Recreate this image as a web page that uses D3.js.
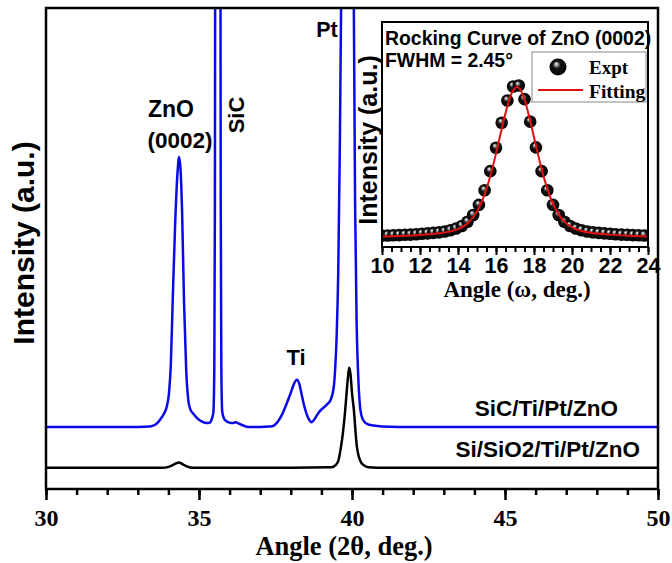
<!DOCTYPE html>
<html><head><meta charset="utf-8">
<script src="https://cdn.jsdelivr.net/npm/d3@7/dist/d3.min.js"></script>
<style>body{margin:0;background:#fff;} svg{display:block;}</style>
</head><body><svg id="c" width="672" height="563"></svg>
<script>
// ---------- DATA ----------
const mainTicks = [30, 35, 40, 45, 50];
const insetTicks = [10, 12, 14, 16, 18, 20, 22, 24];
const seriesNames = ["SiC/Ti/Pt/ZnO", "Si/SiO2/Ti/Pt/ZnO"];
const peakNames = ["ZnO", "(0002)", "SiC", "Ti", "Pt"];
// SiC/Ti/Pt/ZnO  [2theta, intensity]
const sicSeries = [[30,12.9],[31,12.9],[32,12.9],[33,12.9],[33.4,13.0],[33.55,13.3],[33.65,13.8],[33.75,14.6],[33.85,15.6],[33.95,17.2],[34.02,20],[34.08,26],[34.14,39],[34.22,55],[34.3,66],[34.35,69],[34.4,66],[34.45,57],[34.51,39],[34.58,25],[34.65,18.5],[34.72,16.5],[34.81,15.7],[34.9,15.0],[35.0,14.4],[35.1,14.0],[35.25,13.7],[35.35,13.8],[35.42,14.6],[35.47,16],[35.50,25],[35.52,60],[35.535,150],[35.615,900],[35.695,150],[35.71,60],[35.73,25],[35.76,16],[35.82,14.6],[35.9,14.1],[36.0,13.8],[36.1,13.7],[36.2,13.9],[36.3,13.6],[36.45,13.2],[36.6,12.9],[37.0,12.9],[37.3,13.0],[37.42,13.1],[37.55,13.8],[37.7,15.3],[37.85,17.5],[38.0,20],[38.1,21.8],[38.2,22.7],[38.28,21.8],[38.36,19.5],[38.45,17],[38.55,15],[38.62,14.2],[38.68,13.9],[38.75,14.3],[38.85,15.3],[38.95,16.2],[39.05,16.8],[39.17,17.5],[39.3,18.5],[39.4,21],[39.45,25],[39.5,32],[39.55,45],[39.6,70],[39.65,105],[39.7,170],[39.8,400],[39.88,600],[39.95,400],[40.0,200],[40.05,110],[40.1,60],[40.15,35],[40.2,24],[40.25,18],[40.3,15.5],[40.4,14],[40.5,13.5],[40.7,13.2],[41,13.0],[41.5,12.9],[42,12.9],[44,12.9],[46,12.9],[48,12.9],[50,12.9]];
// Si/SiO2/Ti/Pt/ZnO [2theta, intensity]
const siSeries = [[30,4.4],[32,4.4],[33.8,4.4],[34.0,4.6],[34.15,5.0],[34.28,5.4],[34.35,5.5],[34.45,5.2],[34.6,4.7],[34.8,4.4],[36,4.4],[38,4.4],[39.3,4.5],[39.45,4.9],[39.55,5.8],[39.64,8.8],[39.7,11.5],[39.77,15.8],[39.83,20.5],[39.88,24],[39.91,25.2],[39.95,24],[40.0,20],[40.07,15.8],[40.12,11.5],[40.16,8.8],[40.22,6.8],[40.3,5.5],[40.4,4.9],[40.55,4.5],[40.8,4.4],[42,4.4],[46,4.4],[50,4.4]];
// Rocking curve experiment [omega, intensity]
const exptPoints = [[10.0,0.071],[10.3,0.072],[10.6,0.073],[10.9,0.074],[11.2,0.076],[11.5,0.077],[11.8,0.079],[12.1,0.082],[12.4,0.085],[12.7,0.088],[13.0,0.091],[13.3,0.096],[13.6,0.104],[13.9,0.115],[14.2,0.131],[14.5,0.157],[14.8,0.199],[15.1,0.262],[15.4,0.353],[15.7,0.472],[16.0,0.618],[16.3,0.773],[16.6,0.912],[16.9,0.999],[17.2,1.005],[17.5,0.920],[17.8,0.780],[18.1,0.620],[18.4,0.472],[18.7,0.353],[19.0,0.262],[19.3,0.199],[19.6,0.157],[19.9,0.131],[20.2,0.115],[20.5,0.104],[20.8,0.096],[21.1,0.091],[21.4,0.088],[21.7,0.085],[22.0,0.082],[22.3,0.079],[22.6,0.077],[22.9,0.076],[23.2,0.074],[23.5,0.073],[23.8,0.072]];
// Rocking curve fit [omega, intensity]
const fitPoints = [[10,0.066],[11,0.069],[12,0.075],[13,0.085],[13.5,0.094],[14,0.111],[14.5,0.146],[15,0.220],[15.5,0.362],[16,0.581],[16.25,0.709],[16.5,0.833],[16.75,0.935],[17,0.989],[17.1,0.995],[17.25,0.984],[17.5,0.918],[17.75,0.810],[18,0.683],[18.5,0.441],[19,0.267],[19.5,0.170],[20,0.122],[20.5,0.100],[21,0.088],[22,0.077],[23,0.070],[24,0.066]];

// ---------- DRAW ----------
const SANS = "'Liberation Sans', Arial, sans-serif";
const SERIF = "'Liberation Serif', 'Times New Roman', serif";
const svg = d3.select("#c");
const defs = svg.append("defs");

const W = {l:46, r:658, t:8, b:489};
const x = d3.scaleLinear().domain([30,50]).range([W.l, W.r]);
const y = d3.scaleLinear().domain([0,100]).range([W.b, W.t]);

defs.append("clipPath").attr("id","mainClip").append("rect")
  .attr("x",W.l).attr("y",W.t).attr("width",W.r-W.l).attr("height",W.b-W.t);

const line = d3.line().x(d=>x(d[0])).y(d=>y(d[1])).curve(d3.curveMonotoneX);
const gLines = svg.append("g").attr("clip-path","url(#mainClip)");
gLines.append("path").datum(siSeries).attr("d",line)
  .attr("fill","none").attr("stroke","#000").attr("stroke-width",2.5);
gLines.append("path").datum(sicSeries).attr("d",line)
  .attr("fill","none").attr("stroke","#0a0ae6").attr("stroke-width",2.5);

// axes
const minorAx = d3.axisBottom(x).tickValues(d3.range(30,51,1)).tickSize(6).tickFormat("");
const majorAx = d3.axisBottom(x).tickValues(mainTicks).tickSize(11).tickFormat(d3.format("d"));
const gMin = svg.append("g").attr("transform",`translate(0,${W.b})`).call(minorAx);
const gMaj = svg.append("g").attr("transform",`translate(0,${W.b})`).call(majorAx);
[gMin,gMaj].forEach(g=>{g.select(".domain").remove(); g.selectAll("line").attr("stroke","#000").attr("stroke-width",2.5);});
gMaj.selectAll("text").attr("font-family",SERIF).attr("font-weight","bold").attr("font-size",24)
  .attr("fill","#000").attr("y",null).attr("dy",null).attr("transform","translate(0,37)");

svg.append("rect").attr("x",W.l).attr("y",W.t).attr("width",W.r-W.l).attr("height",W.b-W.t)
  .attr("fill","none").attr("stroke","#000").attr("stroke-width",2.5);

svg.append("text").text("Angle (2θ, deg.)").attr("x",344).attr("y",555)
  .attr("text-anchor","middle").attr("font-family",SERIF).attr("font-weight","bold").attr("font-size",26.5);
svg.append("text").text("Intensity (a.u.)").attr("transform","translate(34,243) rotate(-90)")
  .attr("text-anchor","middle").attr("font-family",SANS).attr("font-weight","bold").attr("font-size",30);

function lab(t,xx,yy,size,anchor,rot){
  const e = svg.append("text").text(t).attr("font-family",SANS).attr("font-weight","bold")
    .attr("font-size",size).attr("text-anchor",anchor||"middle").attr("fill","#000");
  if(rot) e.attr("transform",`translate(${xx},${yy}) rotate(${rot})`);
  else e.attr("x",xx).attr("y",yy);
  return e;
}
lab(peakNames[0], 171, 117, 23);
lab(peakNames[1], 180, 148, 22.5);
lab(peakNames[2], 244, 115, 22, "middle", -90);
lab(peakNames[3], 296, 365, 22);
lab(peakNames[4], 327, 37, 21.5);
lab(seriesNames[0], 618, 416, 22.5, "end");
lab(seriesNames[1], 640, 457, 22.5, "end");

// ---------- INSET ----------
const I = {l:382, r:648, t:22, b:247};
const ix = d3.scaleLinear().domain([10,24]).range([I.l, I.r]);
const iy = d3.scaleLinear().domain([0,1.4]).range([I.b, I.t]);
svg.append("rect").attr("x",I.l).attr("y",I.t).attr("width",I.r-I.l).attr("height",I.b-I.t).attr("fill","#fff");
defs.append("clipPath").attr("id","inClip").append("rect")
  .attr("x",I.l).attr("y",I.t).attr("width",I.r-I.l).attr("height",I.b-I.t);

const grad = defs.append("radialGradient").attr("id","ball").attr("cx","50%").attr("cy","50%").attr("r","55%")
  .attr("fx","38%").attr("fy","30%");
grad.append("stop").attr("offset","0%").attr("stop-color","#ffffff");
grad.append("stop").attr("offset","14%").attr("stop-color","#b0b0b0");
grad.append("stop").attr("offset","40%").attr("stop-color","#151515");
grad.append("stop").attr("offset","100%").attr("stop-color","#000");

const gIn = svg.append("g").attr("clip-path","url(#inClip)");
gIn.selectAll("circle").data(exptPoints).join("circle")
  .attr("cx",d=>ix(d[0])).attr("cy",d=>iy(d[1])).attr("r",6.3).attr("fill","url(#ball)");
const iline = d3.line().x(d=>ix(d[0])).y(d=>iy(d[1])).curve(d3.curveMonotoneX);
gIn.append("path").datum(fitPoints).attr("d",iline).attr("fill","none").attr("stroke","#e01010").attr("stroke-width",2);

const iMin = d3.axisBottom(ix).tickValues(d3.range(10,24.01,0.5)).tickSize(5).tickFormat("");
const iMaj = d3.axisBottom(ix).tickValues(insetTicks).tickSize(8).tickFormat(d3.format("d"));
const giMin = svg.append("g").attr("transform",`translate(0,${I.b})`).call(iMin);
const giMaj = svg.append("g").attr("transform",`translate(0,${I.b})`).call(iMaj);
[giMin,giMaj].forEach(g=>{g.select(".domain").remove(); g.selectAll("line").attr("stroke","#000").attr("stroke-width",2);});
giMaj.selectAll("text").attr("font-family",SANS).attr("font-weight","bold").attr("font-size",21.5)
  .attr("fill","#000").attr("y",null).attr("dy",null).attr("transform","translate(0,26)");

svg.append("rect").attr("x",I.l).attr("y",I.t).attr("width",I.r-I.l).attr("height",I.b-I.t)
  .attr("fill","none").attr("stroke","#000").attr("stroke-width",2);

svg.append("text").text("Rocking Curve of ZnO (0002)").attr("x",385).attr("y",45)
  .attr("font-family",SANS).attr("font-weight","bold").attr("font-size",19.4);
svg.append("text").text("FWHM = 2.45°").attr("x",385).attr("y",67)
  .attr("font-family",SANS).attr("font-weight","bold").attr("font-size",19.4);
svg.append("text").text("Angle (ω, deg.)").attr("x",517).attr("y",297).attr("text-anchor","middle")
  .attr("font-family",SERIF).attr("font-weight","bold").attr("font-size",23);
svg.append("text").text("Intensity (a.u.)").attr("transform","translate(377,140) rotate(-90)")
  .attr("text-anchor","middle").attr("font-family",SANS).attr("font-weight","bold").attr("font-size",25);

// legend
const lg = svg.append("g");
lg.append("rect").attr("x",532).attr("y",52).attr("width",114).attr("height",50)
  .attr("fill","#fff").attr("stroke","#888").attr("stroke-width",1);
lg.append("circle").attr("cx",558).attr("cy",67).attr("r",8.5).attr("fill","url(#ball)");
lg.append("line").attr("x1",538).attr("x2",583).attr("y1",90).attr("y2",90).attr("stroke","#e01010").attr("stroke-width",2);
lg.append("text").text("Expt").attr("x",589).attr("y",74).attr("font-family",SERIF).attr("font-weight","bold").attr("font-size",19);
lg.append("text").text("Fitting").attr("x",589).attr("y",98).attr("font-family",SERIF).attr("font-weight","bold").attr("font-size",19.5);
</script>
</body></html>
